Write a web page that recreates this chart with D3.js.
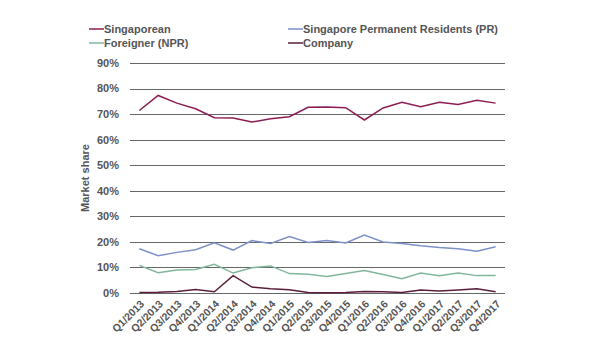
<!DOCTYPE html>
<html>
<head>
<meta charset="utf-8">
<script src="https://cdn.jsdelivr.net/npm/d3@7"></script>
<style>
  body { margin: 0; background: #fff; }
  text { font-family: "Liberation Sans", Arial, sans-serif; }
</style>
</head>
<body>
<div id="chart"></div>
<script>
var quarters = ["Q1/2013","Q2/2013","Q3/2013","Q4/2013","Q1/2014","Q2/2014","Q3/2014","Q4/2014",
  "Q1/2015","Q2/2015","Q3/2015","Q4/2015","Q1/2016","Q2/2016","Q3/2016","Q4/2016",
  "Q1/2017","Q2/2017","Q3/2017","Q4/2017"];

var singaporean = [71.4,77.3,74.3,72.1,68.6,68.5,66.9,68.2,69.0,72.7,72.8,72.5,67.7,72.4,74.6,72.9,74.6,73.8,75.4,74.3];
var pr          = [17.3,14.6,15.9,16.9,19.6,16.8,20.5,19.4,22.1,19.8,20.5,19.6,22.7,20.0,19.4,18.5,17.8,17.3,16.3,18.1];
var foreigner   = [10.8,7.9,9.0,9.2,11.2,7.8,9.9,10.6,7.6,7.3,6.5,7.6,8.8,7.2,5.6,7.8,6.8,7.8,6.8,6.8];
var company     = [0.2,0.3,0.6,1.4,0.5,6.8,2.3,1.7,1.3,0.2,0.1,0.2,0.6,0.5,0.2,1.2,0.8,1.2,1.7,0.5];

var yTicks = [0,10,20,30,40,50,60,70,80,90];

var series = [
  {name: "Singaporean", values: singaporean, color: "#8c1d52"},
  {name: "Singapore Permanent Residents (PR)", values: pr, color: "#7d90c8"},
  {name: "Foreigner (NPR)", values: foreigner, color: "#80b69b"},
  {name: "Company", values: company, color: "#5b1e3c"}
];

var width = 600, height = 360;
var margin = {top: 63, right: 95, bottom: 67, left: 130};
var svg = d3.select("#chart").append("svg").attr("width", width).attr("height", height);

var x = d3.scalePoint().domain(quarters).range([margin.left, width - margin.right]).padding(0.5);
var y = d3.scaleLinear().domain([0, 90]).range([height - margin.bottom, margin.top]);

// gridlines
svg.append("g").selectAll("line")
  .data(yTicks)
  .enter().append("line")
  .attr("x1", margin.left).attr("x2", width - margin.right)
  .attr("y1", function(d) { return Math.round(y(d)) + 0.5; })
  .attr("y2", function(d) { return Math.round(y(d)) + 0.5; })
  .attr("stroke", "#666").attr("stroke-width", 1);

// y tick labels
svg.append("g").selectAll("text")
  .data(yTicks)
  .enter().append("text")
  .attr("x", 119)
  .attr("y", function(d) { return y(d); })
  .attr("dy", "0.35em")
  .attr("text-anchor", "end")
  .attr("font-size", 11)
  .attr("font-weight", "bold")
  .attr("fill", "#555")
  .text(function(d) { return d + "%"; });

// y title
svg.append("text")
  .attr("transform", "translate(89," + 178 + ") rotate(-90)")
  .attr("text-anchor", "middle")
  .attr("font-size", 11)
  .attr("font-weight", "bold")
  .attr("fill", "#555")
  .text("Market share");

// x labels
svg.append("g").selectAll("text")
  .data(quarters)
  .enter().append("text")
  .attr("transform", function(d) { return "translate(" + (x(d) + 3) + "," + (height - margin.bottom + 9) + ") rotate(-45)"; })
  .attr("text-anchor", "end")
  .attr("dy", "0.35em")
  .attr("font-size", 10.5)
  .attr("font-weight", "bold")
  .attr("fill", "#555")
  .text(function(d) { return d; });

// lines
var line = d3.line()
  .x(function(d, i) { return x(quarters[i]); })
  .y(function(d) { return y(d); });

svg.append("g").selectAll("path")
  .data(series.slice().reverse())
  .enter().append("path")
  .attr("d", function(d) { return line(d.values); })
  .attr("fill", "none")
  .attr("stroke", function(d) { return d.color; })
  .attr("stroke-width", 1.5);

// legend
var legendPos = [[89, 29], [288, 29], [89, 43], [288, 43]];
var legend = svg.append("g").selectAll("g")
  .data(series)
  .enter().append("g")
  .attr("transform", function(d, i) { return "translate(" + legendPos[i][0] + "," + legendPos[i][1] + ")"; });
legend.append("line")
  .attr("x1", 0).attr("x2", 15).attr("y1", 0).attr("y2", 0)
  .attr("stroke", function(d) { return d.color; }).attr("stroke-width", 1.5);
legend.append("text")
  .attr("x", 15).attr("dy", "0.35em")
  .attr("font-size", 11)
  .attr("font-weight", "bold")
  .attr("fill", "#555")
  .text(function(d) { return d.name; });
</script>
</body>
</html>
